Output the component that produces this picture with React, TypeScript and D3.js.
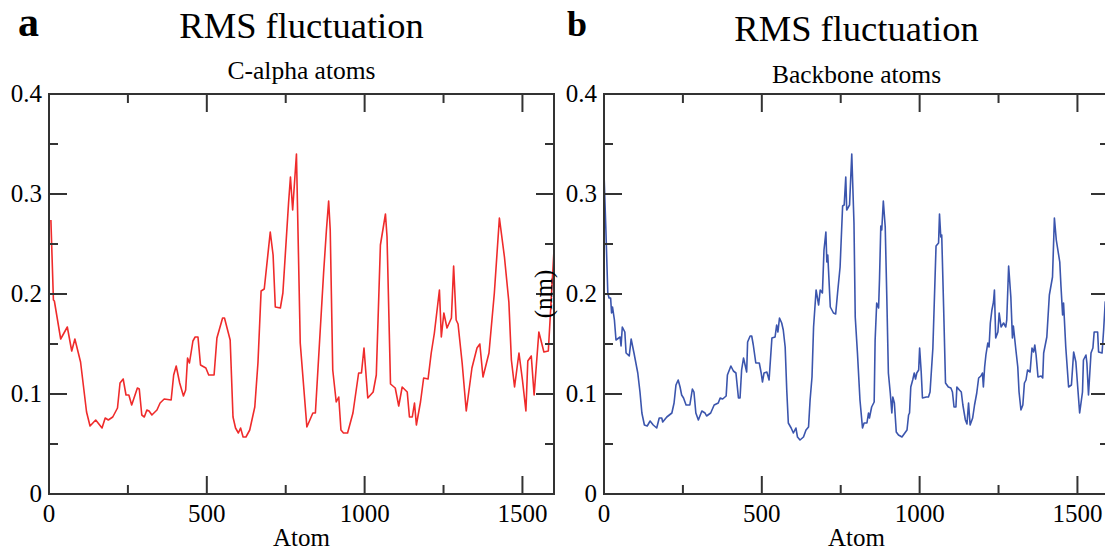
import * as d3 from "d3";
import { useEffect, useRef } from "react";

// C-alpha atoms (panel a)
const caAtoms = [6, 14, 17, 37, 58, 72, 82, 100, 119, 130, 148, 168, 178, 188, 202, 217, 225, 235, 244, 253, 262, 280, 286, 294, 302, 310, 317, 326, 342, 352, 365, 387, 395, 403, 414, 426, 433, 439, 445, 456, 463, 472, 480, 497, 506, 523, 532, 550, 556, 574, 583, 591, 600, 607, 615, 624, 636, 652, 662, 672, 682, 701, 710, 717, 733, 741, 759, 765, 772, 784, 796, 817, 836, 844, 870, 879, 886, 891, 899, 910, 918, 925, 933, 946, 963, 981, 990, 998, 1010, 1027, 1037, 1050, 1066, 1071, 1082, 1097, 1108, 1119, 1135, 1142, 1151, 1158, 1164, 1177, 1187, 1201, 1211, 1221, 1237, 1243, 1251, 1261, 1275, 1282, 1290, 1296, 1309, 1322, 1340, 1356, 1365, 1375, 1394, 1411, 1427, 1443, 1457, 1465, 1475, 1489, 1500, 1511, 1517, 1528, 1537, 1552, 1568, 1582, 1600];
const caRmsf = [0.274, 0.194, 0.193, 0.155, 0.167, 0.143, 0.155, 0.132, 0.082, 0.068, 0.074, 0.066, 0.076, 0.074, 0.077, 0.086, 0.111, 0.115, 0.099, 0.099, 0.089, 0.106, 0.105, 0.079, 0.077, 0.084, 0.083, 0.079, 0.084, 0.091, 0.095, 0.094, 0.119, 0.128, 0.111, 0.098, 0.104, 0.136, 0.131, 0.153, 0.157, 0.157, 0.129, 0.126, 0.119, 0.119, 0.156, 0.176, 0.176, 0.154, 0.077, 0.066, 0.061, 0.066, 0.057, 0.057, 0.064, 0.087, 0.131, 0.203, 0.205, 0.262, 0.239, 0.187, 0.186, 0.201, 0.291, 0.317, 0.284, 0.340, 0.151, 0.067, 0.081, 0.081, 0.221, 0.264, 0.293, 0.264, 0.124, 0.092, 0.097, 0.064, 0.061, 0.061, 0.081, 0.121, 0.121, 0.146, 0.096, 0.102, 0.119, 0.249, 0.280, 0.257, 0.110, 0.106, 0.088, 0.107, 0.102, 0.077, 0.077, 0.091, 0.069, 0.092, 0.116, 0.115, 0.141, 0.161, 0.204, 0.157, 0.181, 0.166, 0.176, 0.228, 0.174, 0.170, 0.131, 0.083, 0.126, 0.146, 0.150, 0.117, 0.141, 0.201, 0.276, 0.237, 0.192, 0.134, 0.107, 0.141, 0.114, 0.083, 0.133, 0.138, 0.099, 0.162, 0.142, 0.143, 0.244];

// Backbone atoms (panel b)
const bbAtoms = [0, 6, 12, 16, 21, 24, 27, 33, 38, 51, 54, 58, 66, 70, 80, 86, 95, 107, 114, 120, 128, 137, 146, 156, 167, 175, 183, 186, 199, 215, 222, 228, 235, 241, 246, 252, 260, 272, 280, 285, 291, 299, 310, 320, 325, 338, 349, 362, 368, 376, 387, 391, 402, 410, 418, 426, 431, 436, 442, 447, 452, 455, 463, 468, 473, 481, 492, 498, 502, 507, 516, 523, 532, 542, 547, 551, 556, 563, 568, 574, 579, 584, 593, 600, 608, 613, 621, 632, 640, 648, 653, 659, 664, 672, 680, 685, 692, 697, 703, 706, 709, 717, 727, 734, 740, 748, 756, 761, 766, 769, 778, 785, 792, 796, 803, 811, 819, 824, 833, 838, 841, 848, 856, 859, 864, 870, 873, 877, 880, 885, 891, 896, 901, 907, 912, 915, 920, 926, 933, 944, 960, 965, 968, 972, 978, 983, 987, 991, 997, 1000, 1005, 1009, 1021, 1028, 1033, 1042, 1052, 1060, 1063, 1067, 1070, 1076, 1082, 1091, 1099, 1104, 1109, 1115, 1118, 1126, 1132, 1137, 1145, 1150, 1155, 1160, 1168, 1174, 1181, 1187, 1194, 1199, 1202, 1206, 1210, 1216, 1220, 1224, 1229, 1234, 1237, 1241, 1248, 1252, 1258, 1266, 1273, 1276, 1282, 1289, 1294, 1297, 1305, 1311, 1315, 1321, 1327, 1332, 1337, 1342, 1350, 1356, 1361, 1365, 1369, 1375, 1385, 1390, 1393, 1403, 1411, 1421, 1427, 1433, 1444, 1448, 1453, 1456, 1463, 1472, 1481, 1488, 1495, 1507, 1516, 1519, 1527, 1530, 1535, 1543, 1549, 1553, 1564, 1567, 1578, 1583, 1588, 1600];
const bbRmsf = [0.321, 0.264, 0.201, 0.196, 0.196, 0.181, 0.187, 0.174, 0.154, 0.157, 0.148, 0.167, 0.162, 0.141, 0.138, 0.155, 0.141, 0.121, 0.102, 0.081, 0.069, 0.068, 0.073, 0.069, 0.066, 0.076, 0.076, 0.072, 0.077, 0.081, 0.091, 0.109, 0.114, 0.107, 0.099, 0.096, 0.089, 0.089, 0.105, 0.102, 0.081, 0.074, 0.083, 0.081, 0.078, 0.081, 0.089, 0.091, 0.096, 0.095, 0.098, 0.119, 0.128, 0.123, 0.121, 0.096, 0.096, 0.124, 0.136, 0.129, 0.122, 0.152, 0.158, 0.158, 0.149, 0.131, 0.131, 0.121, 0.112, 0.121, 0.122, 0.114, 0.156, 0.157, 0.169, 0.162, 0.176, 0.171, 0.164, 0.147, 0.104, 0.071, 0.066, 0.061, 0.066, 0.057, 0.054, 0.057, 0.064, 0.067, 0.094, 0.117, 0.167, 0.204, 0.189, 0.204, 0.201, 0.244, 0.262, 0.232, 0.239, 0.187, 0.181, 0.180, 0.201, 0.227, 0.288, 0.289, 0.317, 0.284, 0.289, 0.340, 0.271, 0.177, 0.141, 0.094, 0.066, 0.071, 0.071, 0.081, 0.076, 0.087, 0.092, 0.154, 0.191, 0.186, 0.216, 0.268, 0.264, 0.293, 0.267, 0.197, 0.121, 0.101, 0.081, 0.097, 0.091, 0.062, 0.059, 0.057, 0.064, 0.079, 0.081, 0.107, 0.114, 0.121, 0.115, 0.121, 0.124, 0.146, 0.122, 0.096, 0.097, 0.097, 0.102, 0.146, 0.248, 0.251, 0.280, 0.257, 0.259, 0.187, 0.111, 0.107, 0.106, 0.102, 0.087, 0.087, 0.107, 0.104, 0.102, 0.089, 0.074, 0.070, 0.091, 0.069, 0.076, 0.089, 0.101, 0.116, 0.118, 0.121, 0.107, 0.127, 0.139, 0.151, 0.147, 0.171, 0.184, 0.192, 0.204, 0.156, 0.162, 0.181, 0.167, 0.171, 0.167, 0.174, 0.228, 0.197, 0.156, 0.168, 0.144, 0.127, 0.102, 0.084, 0.089, 0.111, 0.114, 0.124, 0.122, 0.146, 0.142, 0.149, 0.139, 0.117, 0.118, 0.116, 0.141, 0.157, 0.199, 0.217, 0.276, 0.254, 0.232, 0.207, 0.179, 0.191, 0.147, 0.107, 0.109, 0.142, 0.132, 0.081, 0.102, 0.134, 0.139, 0.131, 0.099, 0.141, 0.146, 0.162, 0.162, 0.142, 0.141, 0.164, 0.192, 0.195];

const xMajorTicks = [0, 500, 1000, 1500];
const xMinorTicks = [250, 750, 1250];
const yMajorTicks = [0, 0.1, 0.2, 0.3, 0.4];
const yMinorTicks = [0.05, 0.15, 0.25, 0.35];

const panels = [
  { letter: "a", subtitle: "C-alpha atoms", atoms: caAtoms, rmsf: caRmsf, color: "#ef2b2b", left: 49, letterX: 18, letterSize: 42, titleY: 38, subY: 79, yLabel: false },
  { letter: "b", subtitle: "Backbone atoms", atoms: bbAtoms, rmsf: bbRmsf, color: "#3b55ad", left: 604, letterX: 567, letterSize: 36, titleY: 41, subY: 83, yLabel: true },
];

const FONT = "'Liberation Serif', 'Times New Roman', serif";
const TOP = 94;
const BOTTOM = 494;
const PW = 505;
const AXIS = "#333";

const App = () => {
  const ref = useRef(null);

  useEffect(() => {
    const svg = d3.select(ref.current);
    svg.selectAll("*").remove();

    panels.forEach((p, i) => {
      const x = d3.scaleLinear().domain([0, 1600]).range([p.left, p.left + PW]);
      const y = d3.scaleLinear().domain([0, 0.4]).range([BOTTOM, TOP]);
      const g = svg.append("g");

      svg.append("clipPath").attr("id", "clip" + i)
        .append("rect").attr("x", x(0)).attr("y", TOP).attr("width", PW).attr("height", BOTTOM - TOP);

      const line = d3.line<number>()
        .x((d, k) => x(p.atoms[k]))
        .y((d) => y(d));

      g.append("path")
        .datum(p.rmsf)
        .attr("clip-path", `url(#clip${i})`)
        .attr("d", line)
        .attr("fill", "none")
        .attr("stroke", p.color)
        .attr("stroke-width", 1.6)
        .attr("stroke-linejoin", "round");

      // ticks, inside on all four sides
      const tick = (x1: number, y1: number, x2: number, y2: number) =>
        g.append("line").attr("x1", x1).attr("y1", y1).attr("x2", x2).attr("y2", y2)
          .attr("stroke", AXIS).attr("stroke-width", 2);

      xMajorTicks.forEach((t) => { tick(x(t), BOTTOM, x(t), BOTTOM - 18); tick(x(t), TOP, x(t), TOP + 18); });
      xMinorTicks.forEach((t) => { tick(x(t), BOTTOM, x(t), BOTTOM - 9); tick(x(t), TOP, x(t), TOP + 9); });
      yMajorTicks.forEach((t) => { tick(x(0), y(t), x(0) + 18, y(t)); tick(x(1600), y(t), x(1600) - 18, y(t)); });
      yMinorTicks.forEach((t) => { tick(x(0), y(t), x(0) + 9, y(t)); tick(x(1600), y(t), x(1600) - 9, y(t)); });

      g.append("rect")
        .attr("x", x(0)).attr("y", TOP).attr("width", PW).attr("height", BOTTOM - TOP)
        .attr("fill", "none").attr("stroke", AXIS).attr("stroke-width", 2);

      const text = (tx: number, ty: number, s: string, size: number, anchor: string) =>
        g.append("text").attr("x", tx).attr("y", ty).attr("font-family", FONT)
          .attr("font-size", size).attr("text-anchor", anchor).attr("fill", "#000").text(s);

      yMajorTicks.forEach((t) => text(x(0) - 7, y(t) + 8, String(t), 25, "end"));
      xMajorTicks.forEach((t) => text(x(t), 522, String(t), 25, "middle"));
      text(x(800), 546, "Atom", 25, "middle");

      const cx = p.left + PW / 2;
      text(cx, p.titleY, "RMS fluctuation", 36.5, "middle");
      text(cx, p.subY, p.subtitle, 25.5, "middle");
      text(p.letterX, 36, p.letter, p.letterSize, "start").attr("font-weight", "bold");

      if (p.yLabel) {
        g.append("text")
          .attr("transform", `translate(552,${(TOP + BOTTOM) / 2}) rotate(-90)`)
          .attr("font-family", FONT).attr("font-size", 25).attr("text-anchor", "middle")
          .text("(nm)");
      }
    });
  }, []);

  return (
    <svg ref={ref} width={1105} height={550}
      style={{ position: "absolute", left: 0, top: 0, background: "#fff" }} />
  );
};

export default App;
